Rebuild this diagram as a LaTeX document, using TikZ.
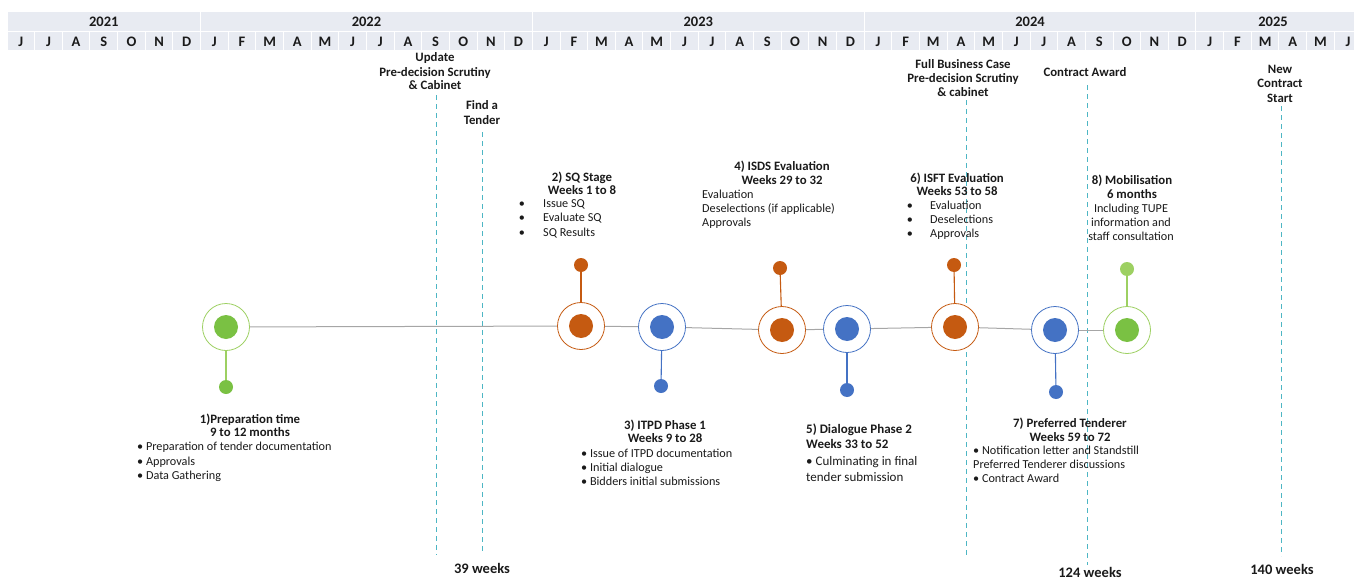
\documentclass[tikz,border=0pt]{standalone}
\usepackage{fontspec}
\setmainfont{Carlito}
\definecolor{hdr}{HTML}{E8EBF2}
\definecolor{org}{HTML}{C55A11}
\definecolor{blu}{HTML}{4472C4}
\definecolor{grn}{HTML}{7AC143}
\definecolor{grnl}{HTML}{9DD062}
\definecolor{tealc}{HTML}{4DB6C4}
\definecolor{tline}{HTML}{A6A6A6}
\definecolor{txt}{HTML}{1A1A1A}
\tikzset{
  ring/.style={circle, draw=#1, line width=0.8pt, fill=white, minimum size=47pt, inner sep=0pt},
  core/.style={circle, fill=#1, minimum size=24pt, inner sep=0pt},
  sdot/.style={circle, fill=#1, minimum size=14pt, inner sep=0pt},
  stem/.style={draw=#1, line width=1.1pt},
  vd/.style={draw=tealc, dash pattern=on 5pt off 4pt, line width=0.9pt},
  tl/.style={draw=tline, line width=1pt},
  ttl/.style={font=\fontsize{12.8}{14}\selectfont\bfseries, text=txt, inner sep=0pt, anchor=base},
  bdy/.style={font=\fontsize{12.2}{14}\selectfont, text=txt, inner sep=0pt, anchor=base west},
  bdyc/.style={font=\fontsize{12.2}{14}\selectfont, text=txt, inner sep=0pt, anchor=base},
  big/.style={font=\fontsize{13}{15}\selectfont\bfseries, text=txt, inner sep=0pt, anchor=base west},
  bigr/.style={font=\fontsize{13}{15}\selectfont, text=txt, inner sep=0pt, anchor=base west},
  wk/.style={font=\fontsize{14.5}{16}\selectfont\bfseries, text=txt, inner sep=0pt, anchor=base},
  hcell/.style={fill=hdr, draw=white, line width=1pt},
  htxt/.style={font=\fontsize{14.5}{16}\selectfont\bfseries, text=txt, inner sep=0pt},
}
\begin{document}
\begin{tikzpicture}[x=1pt, y=-1pt]
\useasboundingbox (0,0) rectangle (1354,578);
% ---------- header ----------
\def\mw{27.65}
\foreach \lab [count=\i from 0] in {J,J,A,S,O,N,D,J,F,M,A,M,J,J,A,S,O,N,D,J,F,M,A,M,J,J,A,S,O,N,D,J,F,M,A,M,J,J,A,S,O,N,D,J,F,M,A,M,J}{
  \path[hcell] ({7+\mw*\i},32) rectangle ({7+\mw*(\i+1)},51);
  \node[htxt] (m\i) at ({7+\mw*(\i+0.5)},41.5) {\lab};
}
\foreach \yr/\a/\b [count=\j] in {2021/0/7,2022/7/19,2023/19/31,2024/31/43,2025/43/49}{
  \path[hcell] ({7+\mw*\a},12) rectangle ({7+\mw*\b},32);
}
\node[htxt] (y1) at ({7+\mw*3.5},21.5) {2021};
\node[htxt] (y2) at ({7+\mw*13},21.5) {2022};
\node[htxt] (y3) at ({7+\mw*25},21.5) {2023};
\node[htxt] (y4) at ({7+\mw*37},21.5) {2024};
\node[htxt] (y5) at (1273,21.5) {2025};

% ---------- dashed milestone lines ----------
\coordinate (u1) at (436,95);  \coordinate (u2) at (436,555);
\coordinate (f1) at (482,132); \coordinate (f2) at (482,553);
\coordinate (b1) at (966,100); \coordinate (b2) at (966,557);
\coordinate (c1) at (1087,85); \coordinate (c2) at (1087,565);
\coordinate (n1) at (1281,106);\coordinate (n2) at (1281,556);
\draw[vd] (u1) -- (u2);
\draw[vd] (f1) -- (f2);
\draw[vd] (b1) -- (b2);
\draw[vd] (c1) -- (c2);
\draw[vd] (n1) -- (n2);

% top labels
\node[ttl] (lu1) at (435,62) {Update};
\node[ttl] (lu2) at (435,76) {Pre-decision Scrutiny};
\node[ttl] (lu3) at (435,89) {\& Cabinet};
\node[ttl] (lf1) at (482,109) {Find a};
\node[ttl] (lf2) at (482,124) {Tender};
\node[ttl] (lb1) at (963,69) {Full Business Case};
\node[ttl] (lb2) at (963,82) {Pre-decision Scrutiny};
\node[ttl] (lb3) at (963,96) {\& cabinet};
\node[ttl] (lc1) at (1085,76) {Contract Award};
\node[ttl] (ln1) at (1280,74) {New};
\node[ttl] (ln2) at (1280,88) {Contract};
\node[ttl] (ln3) at (1280,102) {Start};
% bottom labels
\node[wk] (w39) at (482,573) {39 weeks};
\node[wk] (w124) at (1090,577) {124 weeks};
\node[wk] (w140) at (1282,574) {140 weeks};

% ---------- timeline ----------
\node[ring=grnl] (r1) at (226,327) {};
\node[ring=org]  (r2) at (581,326) {};
\node[ring=blu]  (r3) at (662,327) {};
\node[ring=org]  (r4) at (782,330) {};
\node[ring=blu]  (r5) at (847,329) {};
\node[ring=org]  (r6) at (955,327) {};
\node[ring=blu]  (r7) at (1055,330) {};
\node[ring=grnl] (r8) at (1127,330) {};
\node[core=grn] (k1) at (r1) {};
\node[core=org] (k2) at (r2) {};
\node[core=blu] (k3) at (r3) {};
\node[core=org] (k4) at (r4) {};
\node[core=blu] (k5) at (r5) {};
\node[core=org] (k6) at (r6) {};
\node[core=blu] (k7) at (r7) {};
\node[core=grn] (k8) at (r8) {};
\draw[tl] (r1) -- (r2);
\draw[tl] (r2) -- (r3);
\draw[tl] (r3) -- (r4);
\draw[tl] (r4) -- (r5);
\draw[tl] (r5) -- (r6);
\draw[tl] (r6) -- (r7);
\draw[tl] (r7) -- (r8);

\node[sdot=grn] (d1) at (226,387) {};
\node[sdot=org] (d2) at (581,265) {};
\node[sdot=blu] (d3) at (661,386) {};
\node[sdot=org] (d4) at (780,268) {};
\node[sdot=blu] (d5) at (847,390) {};
\node[sdot=org] (d6) at (954,265) {};
\node[sdot=blu] (d7) at (1056,392) {};
\node[sdot=grnl] (d8) at (1127,269) {};
\draw[stem=grnl] (r1) -- (d1);
\draw[stem=org] (r2) -- (d2);
\draw[stem=blu] (r3) -- (d3);
\draw[stem=org] (r4) -- (d4);
\draw[stem=blu] (r5) -- (d5);
\draw[stem=org] (r6) -- (d6);
\draw[stem=blu] (r7) -- (d7);
\draw[stem=grnl] (r8) -- (d8);

% ---------- stage texts ----------
% 1
\node[ttl] (t1a) at (250,423) {1)Preparation time};
\node[ttl] (t1b) at (250,436) {9 to 12 months};
\node[bdy] (t1c) at (137,450) {\textbullet\ Preparation of tender documentation};
\node[bdy] (t1d) at (137,465) {\textbullet\ Approvals};
\node[bdy] (t1e) at (137,479) {\textbullet\ Data Gathering};
% 2
\node[ttl] (t2a) at (582,181) {2) SQ Stage};
\node[ttl] (t2b) at (582,194) {Weeks 1 to 8};
\node[bdyc] (t2c) at (522,207) {\textbullet};
\node[bdyc] (t2d) at (522,221) {\textbullet};
\node[bdyc] (t2e) at (522,236) {\textbullet};
\node[bdy] (t2f) at (543,207) {Issue SQ};
\node[bdy] (t2g) at (543,221) {Evaluate SQ};
\node[bdy] (t2h) at (543,236) {SQ Results};
% 3
\node[ttl] (t3a) at (665,429) {3) ITPD Phase 1};
\node[ttl] (t3b) at (665,442) {Weeks 9 to 28};
\node[bdy] (t3c) at (581,457) {\textbullet\ Issue of ITPD documentation};
\node[bdy] (t3d) at (581,471) {\textbullet\ Initial dialogue};
\node[bdy] (t3e) at (581,485) {\textbullet\ Bidders initial submissions};
% 4
\node[ttl] (t4a) at (782,170) {4) ISDS Evaluation};
\node[ttl] (t4b) at (782,184) {Weeks 29 to 32};
\node[bdy] (t4c) at (702,198) {Evaluation};
\node[bdy] (t4d) at (702,212) {Deselections (if applicable)};
\node[bdy] (t4e) at (702,226) {Approvals};
% 5
\node[big] (t5a) at (806,433) {5) Dialogue Phase 2};
\node[big] (t5b) at (806,448) {Weeks 33 to 52};
\node[bigr] (t5c) at (806,465) {\textbullet\ Culminating in final};
\node[bigr] (t5d) at (806,481) {tender submission};
% 6
\node[ttl] (t6a) at (957,182) {6) ISFT Evaluation};
\node[ttl] (t6b) at (957,195) {Weeks 53 to 58};
\node[bdyc] (t6c) at (910,209) {\textbullet};
\node[bdyc] (t6d) at (910,223) {\textbullet};
\node[bdyc] (t6e) at (910,237) {\textbullet};
\node[bdy] (t6f) at (930,209) {Evaluation};
\node[bdy] (t6g) at (930,223) {Deselections};
\node[bdy] (t6h) at (930,237) {Approvals};
% 7
\node[ttl] (t7a) at (1070,427) {7) Preferred Tenderer};
\node[ttl] (t7b) at (1070,441) {Weeks 59 to 72};
\node[bdy] (t7c) at (973,454) {\textbullet\ Notification letter and Standstill};
\node[bdy] (t7d) at (973,468) {Preferred Tenderer discussions};
\node[bdy] (t7e) at (973,482) {\textbullet\ Contract Award};
% 8
\node[ttl] (t8a) at (1132,184) {8) Mobilisation};
\node[ttl] (t8b) at (1132,198) {6 months};
\node[bdyc] (t8c) at (1131,212) {Including TUPE};
\node[bdyc] (t8d) at (1131,226) {information and};
\node[bdyc] (t8e) at (1131,240) {staff consultation};
\end{tikzpicture}
\end{document}
